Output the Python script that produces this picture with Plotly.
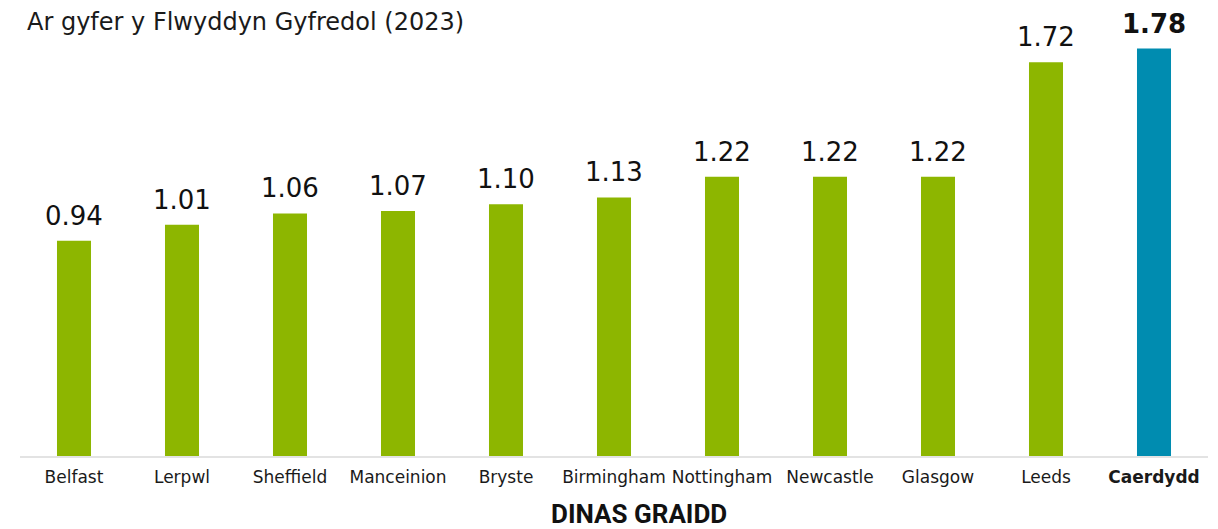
import plotly.graph_objects as go

categories = ["Belfast", "Lerpwl", "Sheffield", "Manceinion", "Bryste", "Birmingham",
              "Nottingham", "Newcastle", "Glasgow", "Leeds", "Caerdydd"]
values = [0.94, 1.01, 1.06, 1.07, 1.10, 1.13, 1.22, 1.22, 1.22, 1.72, 1.78]
highlight = "Caerdydd"

GREEN = "#8db600"
BLUE = "#008cb0"
FONT = "DejaVu Sans, sans-serif"

colors = [BLUE if c == highlight else GREEN for c in categories]
texts = [f"<b>{v:.2f}</b>" if c == highlight else f"{v:.2f}" for c, v in zip(categories, values)]
ticktext = [f"<b>{c}</b>" if c == highlight else c for c in categories]

# page body has an 8px margin, so the figure is sized to fill the rest of the window
W, H = 1210, 521

fig = go.Figure(go.Bar(
    x=categories, y=values, marker_color=colors, marker_line_width=0,
    width=0.315, hoverinfo="x+y",
))

for c, v, t in zip(categories, values, texts):
    fig.add_annotation(x=c, y=v, text=t, showarrow=False, yanchor="bottom",
                       yshift=8, font=dict(family=FONT, size=26, color="#111111"))

fig.update_layout(
    width=W, height=H,
    margin=dict(l=12, r=10, t=12, b=73),
    paper_bgcolor="white", plot_bgcolor="white",
    showlegend=False,
    title=dict(text="Ar gyfer y Flwyddyn Gyfredol (2023)", x=19/W, xanchor="left",
               y=1 - 14/H, yanchor="middle",
               font=dict(family=FONT, size=24, color="#1a1a1a")),
    xaxis=dict(tickmode="array", tickvals=categories, ticktext=ticktext, tickangle=0,
               tickfont=dict(family=FONT, size=17, color="#1a1a1a"),
               ticklabelstandoff=5,
               showline=True, linecolor="#e3e3e3", linewidth=2,
               showgrid=False, ticks="", ticklen=0, automargin=False),
    yaxis=dict(range=[0, 1.905], visible=False, showgrid=False, automargin=False),
)
fig.add_annotation(text="<b>DINAS GRAIDD</b>", x=(631-12)/1188, xref="paper",
                   y=-58/436, yref="paper", yanchor="middle", showarrow=False,
                   font=dict(family="Roboto, sans-serif", size=26, color="#111111"))

fig.write_html("out.html")
